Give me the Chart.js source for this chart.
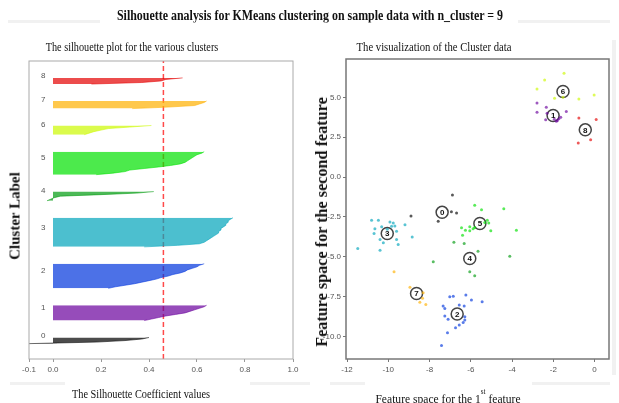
<!DOCTYPE html>
<html>
<head>
<meta charset="utf-8">
<script src="https://cdn.jsdelivr.net/npm/chart.js@4.4.1/dist/chart.umd.min.js"></script>
<style>
  html, body { margin: 0; padding: 0; background: #fff; }
  #wrap { position: relative; width: 619px; height: 403px; overflow: hidden; font-family: "Liberation Serif", serif; color: #111; }
  canvas { position: absolute; top: 0; }
  #sil { left: 0; }
  #feat { left: 310px; }
  .t { position: absolute; white-space: nowrap; line-height: 1; }
  .b { font-weight: bold; }
  .rule { position: absolute; background: #f1f1f1; }
</style>
</head>
<body>
<div id="wrap">
  <div class="rule" style="left:8px;top:20px;width:92px;height:3px"></div>
  <div class="rule" style="left:518px;top:20px;width:92px;height:3px"></div>
  <div class="rule" style="left:10px;top:382px;width:55px;height:3px"></div>
  <div class="rule" style="left:250px;top:382px;width:60px;height:3px"></div>
  <div class="rule" style="left:330px;top:382px;width:35px;height:3px"></div>
  <div class="rule" style="left:532px;top:382px;width:78px;height:3px"></div>
  <div class="rule" style="left:612px;top:40px;width:4px;height:335px"></div>

  <canvas id="sil" width="310" height="403"></canvas>
  <canvas id="feat" width="309" height="403"></canvas>

  <div class="t b" style="left:310px;top:15px;font-size:15px" data-w="386">Silhouette analysis for KMeans clustering on sample data with n_cluster = 9</div>
  <div class="t" style="left:132px;top:46px;font-size:13px" data-w="173">The silhouette plot for the various clusters</div>
  <div class="t" style="left:434px;top:46px;font-size:13px" data-w="155">The visualization of the Cluster data</div>
  <div class="t" style="left:141px;top:393px;font-size:13px" data-w="138">The Silhouette Coefficient values</div>
  <div class="t" style="left:448px;top:396px;font-size:13px" data-w="145">Feature space for the 1<sup style="font-size:8px;vertical-align:9px">st</sup> feature</div>
  <div class="t b" style="left:15px;top:216px;font-size:15px" data-w="88" data-rot="1">Cluster Label</div>
  <div class="t b" style="left:322px;top:222px;font-size:16px" data-w="250" data-rot="1">Feature space for the second feature</div>
</div>

<script>
// silhouette values per cluster, sorted ascending (bottom to top of each band)
const sil0 = [-0.10, 0.18, 0.30, 0.37, 0.40];
const sil1 = [0.38, 0.41, 0.44, 0.47, 0.51, 0.55, 0.57, 0.59, 0.61, 0.63, 0.64];
const sil2 = [0.23, 0.26, 0.30, 0.34, 0.37, 0.40, 0.43, 0.45, 0.48, 0.50, 0.53, 0.55, 0.56, 0.58, 0.60, 0.61, 0.63];
const sil3 = [0.38, 0.52, 0.61, 0.63, 0.64, 0.65, 0.66, 0.67, 0.68, 0.69, 0.69, 0.70, 0.70, 0.71, 0.72, 0.72, 0.73, 0.73, 0.74, 0.75];
const sil4 = [-0.025, -0.01, 0.005, 0.03, 0.20, 0.35, 0.42];
const sil5 = [0.18, 0.25, 0.30, 0.32, 0.38, 0.44, 0.49, 0.53, 0.55, 0.56, 0.57, 0.58, 0.59, 0.60, 0.62, 0.63];
const sil6 = [0.13, 0.15, 0.17, 0.20, 0.23, 0.32, 0.41];
const sil7 = [0.33, 0.48, 0.59, 0.61, 0.63, 0.64];
const sil8 = [0.16, 0.37, 0.45, 0.47, 0.54];
const silAverage = 0.46;
const silTicks = [-0.1, 0.0, 0.2, 0.4, 0.6, 0.8, 1.0];

// feature space points [x, y] per cluster
const pts0 = [[-6.89, -1.12], [-6.94, -2.18], [-6.69, -2.25], [-8.90, -2.44], [-7.58, -2.77]];
const pts1 = [[-2.79, 4.65], [-2.79, 4.07], [-2.34, 4.38], [-2.37, 3.59], [-1.85, 3.50], [-1.73, 3.65],
              [-1.64, 3.75], [-1.37, 4.11], [-1.80, 3.55], [-2.30, 4.00], [-1.95, 3.62]];
const pts2 = [[-7.02, -7.50], [-6.85, -7.46], [-6.24, -7.39], [-5.97, -7.71], [-5.45, -7.81], [-7.34, -8.08],
              [-7.26, -8.23], [-6.32, -8.08], [-6.56, -8.02], [-7.26, -8.71], [-7.10, -8.91], [-6.29, -8.75],
              [-6.29, -8.96], [-6.37, -9.12], [-6.56, -9.27], [-6.74, -9.44], [-7.13, -9.75], [-7.42, -10.56]];
const pts3 = [[-10.81, -2.71], [-10.48, -2.71], [-9.92, -2.81], [-9.76, -2.87], [-9.68, -3.06], [-9.84, -3.08],
              [-9.19, -2.98], [-10.65, -3.23], [-10.32, -3.12], [-9.60, -3.39], [-10.69, -3.54], [-10.40, -3.91],
              [-10.24, -4.12], [-9.60, -3.91], [-9.52, -4.23], [-10.40, -4.58], [-8.84, -3.75], [-11.48, -4.48],
              [-10.05, -3.27]];
const pts4 = [[-7.82, -5.31], [-5.65, -4.64], [-4.11, -4.96], [-6.05, -5.93], [-5.81, -6.18], [-6.32, -4.16], [-6.82, -4.08]];
const pts5 = [[-5.81, -1.77], [-5.48, -2.04], [-4.40, -1.98], [-6.45, -3.18], [-6.26, -3.33], [-6.05, -3.12],
              [-5.89, -3.23], [-5.81, -3.16], [-6.05, -3.37], [-5.13, -2.87], [-5.03, -3.37], [-5.32, -2.85],
              [-3.79, -3.33], [-6.40, -3.64], [-5.20, -2.70]];
const pts6 = [[-2.79, 5.52], [-2.42, 6.09], [-1.48, 6.50], [-1.94, 4.94], [-0.76, 4.90], [-0.02, 5.15], [-1.53, 5.00]];
const pts7 = [[-9.72, -5.94], [-8.95, -6.91], [-8.31, -7.25], [-8.34, -7.60], [-8.47, -7.85], [-8.18, -7.98]];
const pts8 = [[-0.76, 3.71], [0.08, 3.61], [-0.19, 2.34], [-0.79, 2.13]];
const centers = [[-7.39, -2.21], [-2.01, 3.86], [-6.66, -8.58], [-10.05, -3.54], [-6.05, -5.10],
                 [-5.56, -2.91], [-1.53, 5.36], [-8.63, -7.29], [-0.45, 2.96]];
const featXTicks = [-12, -10, -8, -6, -4, -2, 0];
const featYTicks = [-10, -7.5, -5, -2.5, 0, 2.5, 5];

// nipy_spectral colours for 9 clusters
const clusterColors = ['0,0,0', '106,0,157', '0,53,221', '0,164,187', '0,155,15',
                       '0,225,0', '204,249,0', '255,176,0', '228,0,0'];

const tickFont = { family: 'Liberation Sans', size: 8 };
const tickColor = '#555';

// fit the overlay texts to the widths seen in the picture
document.querySelectorAll('.t').forEach(el => {
  const k = el.dataset.w / el.offsetWidth;
  const rot = el.dataset.rot ? ' rotate(-90deg)' : '';
  el.style.transform = `translate(-50%,-50%)${rot} scaleX(${k.toFixed(3)})`;
});

function framePlugin(color, width) {
  return {
    id: 'frame',
    afterDraw(chart) {
      const { ctx, chartArea: a } = chart;
      ctx.save();
      ctx.strokeStyle = color;
      ctx.lineWidth = width;
      ctx.strokeRect(a.left, a.top, a.right - a.left, a.bottom - a.top);
      ctx.restore();
    }
  };
}

// --- Silhouette plot ---
const silValues = [sil0, sil1, sil2, sil3, sil4, sil5, sil6, sil7, sil8];
let yLower = 10;
const bands = silValues.map((vals, i) => {
  const band = { pts: vals.map((v, j) => ({ x: v, y: yLower + j })), mid: yLower + 0.5 * vals.length, label: i };
  yLower += vals.length + 10;
  return band;
});
const yMax = yLower;

const bandLabels = {
  id: 'bandLabels',
  afterDatasetsDraw(chart) {
    const { ctx, scales: { x, y } } = chart;
    ctx.save();
    ctx.font = '8px "Liberation Sans"';
    ctx.fillStyle = '#555';
    ctx.textAlign = 'left';
    ctx.textBaseline = 'alphabetic';
    bands.forEach(b => ctx.fillText(String(b.label), x.getPixelForValue(-0.05), y.getPixelForValue(b.mid) - 2));
    ctx.restore();
  }
};

new Chart(document.getElementById('sil'), {
  type: 'scatter',
  data: {
    datasets: [
      ...bands.map((b, i) => ({
        data: b.pts,
        showLine: true,
        pointRadius: 0,
        borderWidth: 0.8,
        borderColor: `rgba(${clusterColors[i]},0.7)`,
        backgroundColor: `rgba(${clusterColors[i]},0.7)`,
        fill: { value: 0 },
      })),
      {
        data: [{ x: silAverage, y: 0 }, { x: silAverage, y: yMax }],
        showLine: true,
        pointRadius: 0,
        borderWidth: 1.5,
        borderColor: '#ff4a4a',
        borderDash: [5, 3],
        fill: false,
      },
    ],
  },
  options: {
    responsive: false,
    animation: false,
    indexAxis: 'y',
    layout: { padding: { top: 61, right: 17, left: 0, bottom: 0 } },
    plugins: { legend: { display: false }, tooltip: { enabled: false } },
    scales: {
      x: {
        type: 'linear',
        position: 'bottom',
        min: -0.1,
        max: 1.0,
        afterBuildTicks: ax => { ax.ticks = silTicks.map(v => ({ value: v })); },
        afterFit: s => { s.height = 44; },
        ticks: { font: tickFont, color: tickColor, padding: 3, maxRotation: 0, callback: v => v.toFixed(1) },
        grid: { display: true, drawOnChartArea: false, tickLength: 3, color: '#999' },
        border: { display: false },
      },
      y: {
        type: 'linear',
        position: 'left',
        min: 0,
        max: yMax,
        afterFit: s => { s.width = 29; },
        ticks: { display: false },
        grid: { display: false },
        border: { display: false },
      },
    },
  },
  plugins: [bandLabels, framePlugin('#aaa', 1)],
});

// --- Feature space scatter ---
const featPts = [pts0, pts1, pts2, pts3, pts4, pts5, pts6, pts7, pts8];

const centerLabels = {
  id: 'centerLabels',
  afterDatasetsDraw(chart) {
    const { ctx, scales: { x, y } } = chart;
    ctx.save();
    ctx.font = 'bold 8px "Liberation Sans"';
    ctx.fillStyle = '#111';
    ctx.textAlign = 'center';
    ctx.textBaseline = 'middle';
    centers.forEach((c, i) => ctx.fillText(String(i), x.getPixelForValue(c[0]), y.getPixelForValue(c[1]) + 0.5));
    ctx.restore();
  }
};

new Chart(document.getElementById('feat'), {
  type: 'scatter',
  data: {
    datasets: [
      ...featPts.map((pts, i) => ({
        data: pts.map(p => ({ x: p[0], y: p[1] })),
        pointRadius: 1.5,
        borderWidth: 0,
        backgroundColor: `rgba(${clusterColors[i]},0.65)`,
      })),
      {
        data: centers.map(c => ({ x: c[0], y: c[1] })),
        pointRadius: 6,
        borderWidth: 1.5,
        borderColor: '#444',
        backgroundColor: '#fff',
      },
    ],
  },
  options: {
    responsive: false,
    animation: false,
    layout: { padding: { top: 59, right: 10, left: 0, bottom: 0 } },
    plugins: { legend: { display: false }, tooltip: { enabled: false } },
    scales: {
      x: {
        type: 'linear',
        position: 'bottom',
        min: -12.05,
        max: 0.7,
        afterBuildTicks: ax => { ax.ticks = featXTicks.map(v => ({ value: v })); },
        afterFit: s => { s.height = 44; },
        ticks: { font: tickFont, color: tickColor, padding: 3, maxRotation: 0, callback: v => String(v) },
        grid: { display: true, drawOnChartArea: false, tickLength: 3, color: '#777' },
        border: { display: false },
      },
      y: {
        type: 'linear',
        position: 'left',
        min: -11.4,
        max: 7.4,
        afterBuildTicks: ax => { ax.ticks = featYTicks.map(v => ({ value: v })); },
        afterFit: s => { s.width = 36; },
        ticks: { font: tickFont, color: tickColor, padding: 2, callback: v => v.toFixed(1) },
        grid: { display: true, drawOnChartArea: false, tickLength: 3, color: '#777' },
        border: { display: false },
      },
    },
  },
  plugins: [centerLabels, framePlugin('#777', 1.5)],
});
</script>
</body>
</html>
